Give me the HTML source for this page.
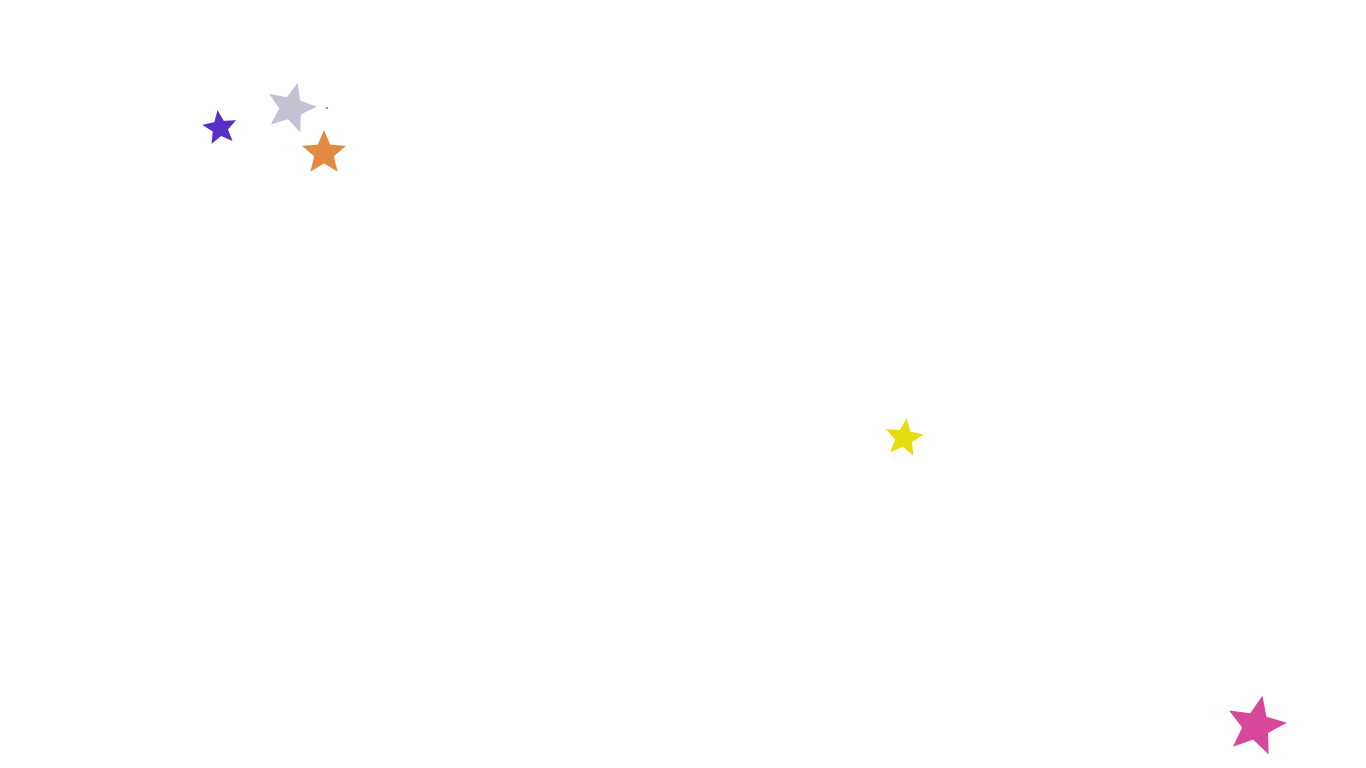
<!DOCTYPE html>
<html><head><meta charset="utf-8"><style>html,body{margin:0;padding:0;background:#fff;width:1366px;height:768px;overflow:hidden}</style></head>
<body>
<svg width="1366" height="768" viewBox="0 0 1366 768" xmlns="http://www.w3.org/2000/svg">
<defs>
<polygon id="s" points="0,-1 0.265,-0.364 0.951,-0.309 0.428,0.139 0.588,0.809 0,0.45 -0.588,0.809 -0.428,0.139 -0.951,-0.309 -0.265,-0.364"/>
</defs>
<use href="#s" fill="#5a2ec8" transform="translate(220,128) rotate(-8) scale(18)"/>
<use href="#s" fill="#c4c2d2" transform="translate(291,108) rotate(15) scale(26)"/>
<use href="#s" fill="#e28a40" transform="translate(324,153) rotate(0) scale(23)"/>
<use href="#s" fill="#e6dc10" transform="translate(904,438) rotate(8) scale(20)"/>
<use href="#s" fill="#d8489a" transform="translate(1256,726) rotate(12) scale(31)"/>
<circle cx="327" cy="108" r="1" fill="#7a5ae0"/>
</svg>
</body></html>
